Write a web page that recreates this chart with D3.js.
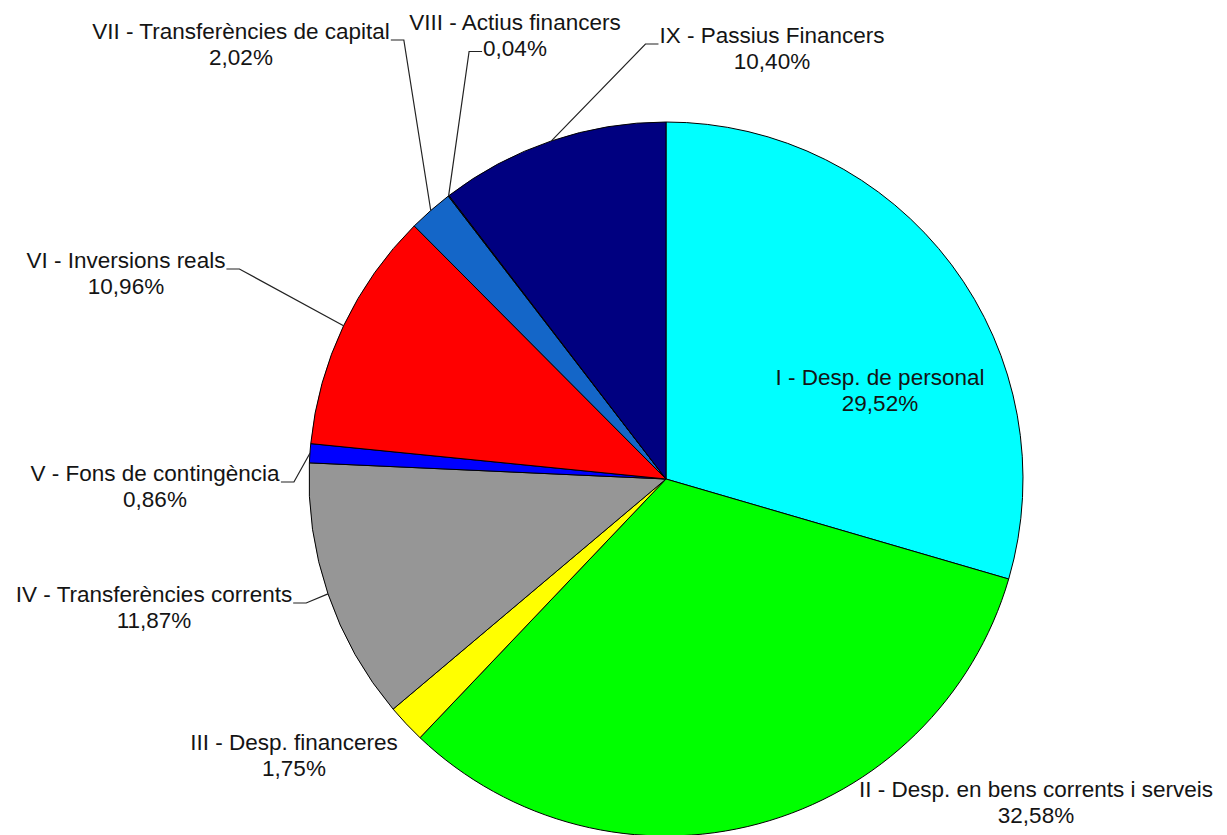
<!DOCTYPE html>
<html>
<head>
<meta charset="utf-8">
<script src="https://cdn.jsdelivr.net/npm/d3@7"></script>
<style>
  html, body { margin: 0; padding: 0; background: #ffffff; }
  svg { display: block; }
  text { font-family: "Liberation Sans", Arial, sans-serif; font-size: 22.5px; fill: #141414; }
</style>
</head>
<body>
<svg id="chart" width="1227" height="835"></svg>
<script>
// ---- data ----
const categories = [
  "I - Desp. de personal",
  "II - Desp. en bens corrents i serveis",
  "III - Desp. financeres",
  "IV - Transferències corrents",
  "V - Fons de contingència",
  "VI - Inversions reals",
  "VII - Transferències de capital",
  "VIII - Actius financers",
  "IX - Passius Financers"
];
const values = [29.52, 32.58, 1.75, 11.87, 0.86, 10.96, 2.02, 0.04, 10.40];
const valueLabels = ["29,52%", "32,58%", "1,75%", "11,87%", "0,86%", "10,96%", "2,02%", "0,04%", "10,40%"];
const colors = ["#00ffff", "#00ff00", "#ffff00", "#969696", "#0000ff", "#ff0000", "#1466c8", "#0a2a9a", "#000080"];

// ---- layout (label placement) ----
const labelCX = [880, 1036, 294, 154, 155, 126, 241, 515, 772];
const labelBaseline = [385, 797, 750, 602, 481, 268, 39, 30, 43];
const lineGap = 25.5;
// leader: side of text where the line attaches ("right"/"left"/null), which text line
const leaderSide = [null, null, null, "right", "right", "right", "right", "left", "left"];
const leaderLineIdx = [0, 0, 0, 0, 0, 0, 0, 1, 0];
const leaderStub = 13;

const cx = 666, cy = 479, R = 357;

const svg = d3.select("#chart");
const g = svg.append("g").attr("transform", `translate(${cx},${cy})`);

const pie = d3.pie().sort(null).value(d => d).startAngle(0).endAngle(2 * Math.PI);
const arcs = pie(values);
const arc = d3.arc().innerRadius(0).outerRadius(R);

g.selectAll("path.slice")
  .data(arcs)
  .enter().append("path")
  .attr("class", "slice")
  .attr("d", arc)
  .attr("fill", (d, i) => colors[i])
  .attr("stroke", "#000")
  .attr("stroke-width", 1)
  .attr("stroke-linejoin", "round");

const labelsG = svg.append("g");
arcs.forEach((a, i) => {
  const t = labelsG.append("text")
    .attr("text-anchor", "middle");
  t.append("tspan").attr("x", labelCX[i]).attr("y", labelBaseline[i]).text(categories[i]);
  t.append("tspan").attr("x", labelCX[i]).attr("y", labelBaseline[i] + lineGap).text(valueLabels[i]);

  if (leaderSide[i]) {
    const span = t.selectAll("tspan").nodes()[leaderLineIdx[i]];
    const bb = span.getBBox();
    const ty = leaderLineIdx[i] === 0 ? labelBaseline[i] + 1 : labelBaseline[i] + lineGap - 4;
    let tx, ex;
    if (leaderSide[i] === "right") { tx = bb.x + bb.width + 1; ex = tx + leaderStub; }
    else { tx = bb.x - 1; ex = tx - leaderStub; }
    const mid = (a.startAngle + a.endAngle) / 2;
    const px = cx + R * Math.sin(mid);
    const py = cy - R * Math.cos(mid);
    labelsG.append("polyline")
      .attr("points", `${tx},${ty} ${ex},${ty} ${px},${py}`)
      .attr("fill", "none")
      .attr("stroke", "#222")
      .attr("stroke-width", 1.2);
  }
});
</script>
</body>
</html>
